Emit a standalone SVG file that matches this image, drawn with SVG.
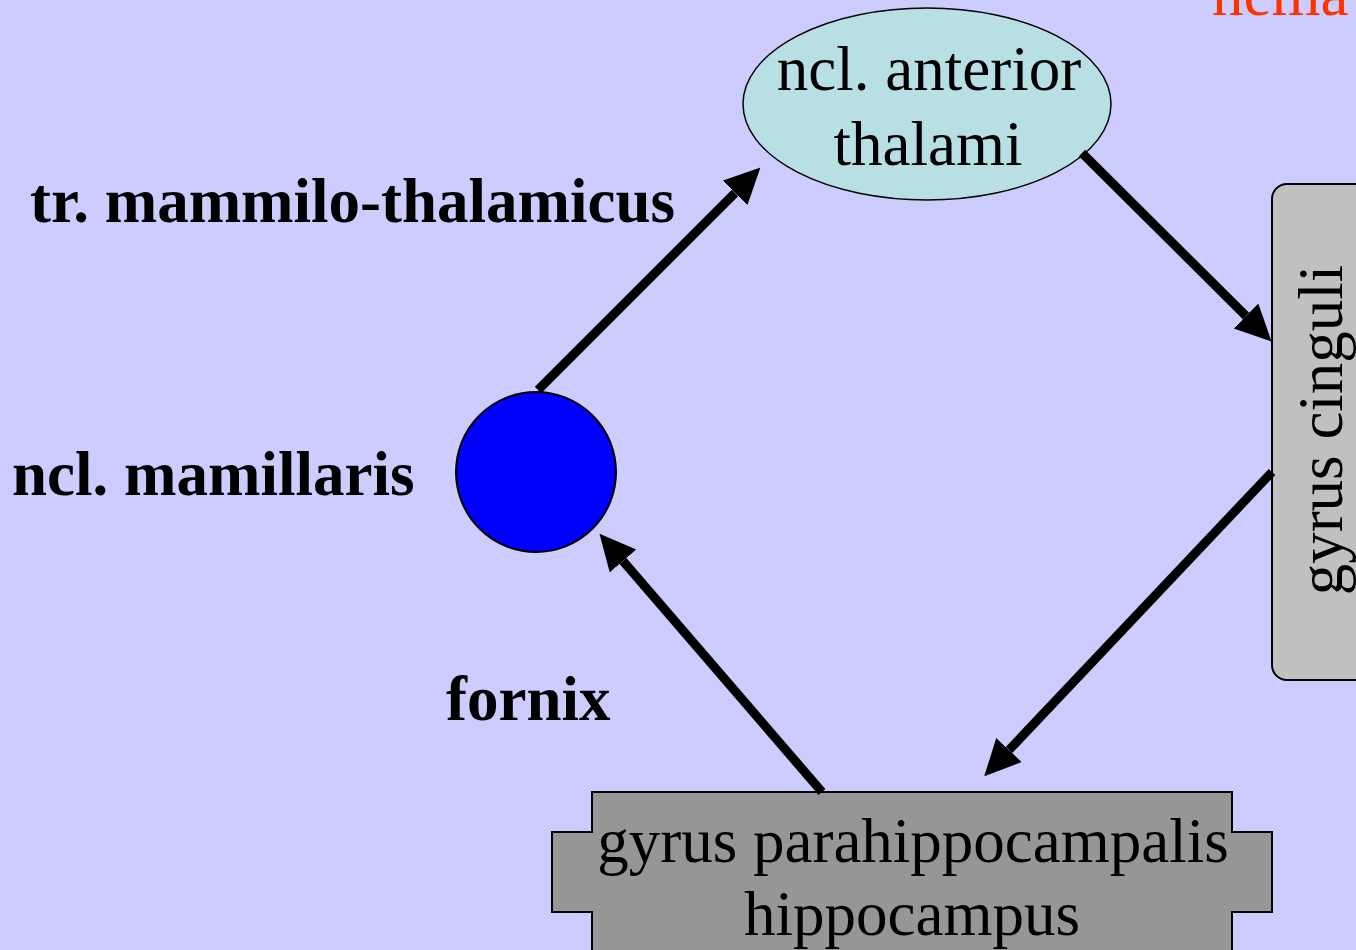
<svg xmlns="http://www.w3.org/2000/svg" width="1356" height="950" viewBox="0 0 1356 950">
<defs>
<style>
.reg{font-family:"Liberation Serif","Times New Roman",serif;font-size:63px;fill:#000}
.bold{font-family:"Liberation Serif","Times New Roman",serif;font-size:63px;font-weight:bold;fill:#000}
.conn{stroke:#000;stroke-width:9;fill:none;marker-end:url(#ah)}
.shape{stroke:#000;stroke-width:2}
</style>
<marker id="ah" markerUnits="userSpaceOnUse" markerWidth="36" markerHeight="36" refX="0" refY="17.5" orient="auto" viewBox="0 0 36 36">
<path d="M0,0 L36,17.5 L0,35 z" fill="#000"/>
</marker>
</defs>
<rect x="0" y="0" width="1356" height="950" fill="#CCCCFF"/>
<text class="reg" x="1212" y="15" style="fill:#FF3300">nema</text>

<g id="ncl-anterior-thalami">
<ellipse class="shape" cx="927" cy="104" rx="184" ry="96" fill="#B8E0E4" style="stroke-width:1.5"/>
<text class="reg" x="929" y="90" text-anchor="middle">ncl. anterior</text>
<text class="reg" x="928" y="165" text-anchor="middle">thalami</text>
</g>

<g id="gyrus-cinguli">
<rect class="shape" x="1272" y="184" width="120" height="496" rx="15" fill="#C0C0C0"/>
<text class="reg" transform="translate(1342,430) rotate(-90)" text-anchor="middle">gyrus cinguli</text>
</g>

<g id="gyrus-parahippocampalis">
<polygon class="shape" fill="#969696" points="592,792 1232,792 1232,832 1272,832 1272,912 1232,912 1232,960 592,960 592,912 552,912 552,832 592,832"/>
<text class="reg" x="913" y="862" text-anchor="middle">gyrus parahippocampalis</text>
<text class="reg" x="912" y="935" text-anchor="middle">hippocampus</text>
</g>

<g id="ncl-mamillaris">
<circle class="shape" cx="536" cy="472" r="80" fill="#0000FF"/>
<text class="bold" x="12" y="495">ncl. mamillaris</text>
</g>

<g id="labels">
<text class="bold" x="30" y="222">tr. mammilo-thalamicus</text>
<text class="bold" x="446" y="720">fornix</text>
</g>

<g id="connectors">
<line class="conn" x1="538" y1="390" x2="735" y2="193"/>
<line class="conn" x1="1082" y1="153" x2="1246" y2="316"/>
<line class="conn" x1="1272" y1="472" x2="1009" y2="750"/>
<line class="conn" x1="822" y1="792" x2="623" y2="561"/>
</g>
</svg>
